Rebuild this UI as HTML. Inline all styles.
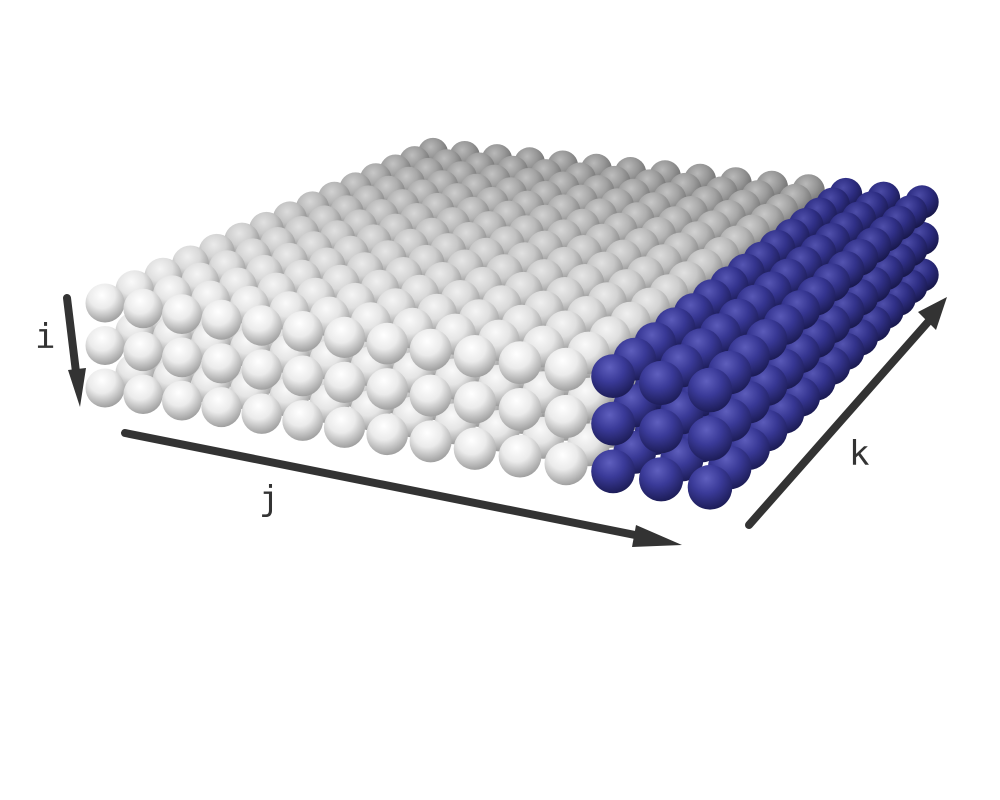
<!DOCTYPE html>
<html><head><meta charset="utf-8"><style>
html,body{margin:0;padding:0;background:#fff;}
svg{display:block;}
text{font-family:"DejaVu Sans Mono","Liberation Mono",monospace;fill:#333;}
</style></head>
<body>
<svg id="scene" width="1000" height="800" viewBox="0 0 1000 800" xmlns="http://www.w3.org/2000/svg">
<defs id="defs"></defs>
<g id="spheres"></g>
<g id="axes">
  <line x1="67" y1="298" x2="76" y2="372" stroke="#333" stroke-width="8" stroke-linecap="round"/>
  <polygon points="68,370 86,368 80,407" fill="#333"/>
  <line x1="125" y1="433" x2="640" y2="536" stroke="#333" stroke-width="8" stroke-linecap="round"/>
  <polygon points="636,525 682,545 632,547" fill="#333"/>
  <line x1="749" y1="525" x2="928" y2="322" stroke="#333" stroke-width="8" stroke-linecap="round"/>
  <polygon points="918,312 947,297 936,330" fill="#333"/>
  <text x="35" y="348" font-size="34">i</text>
  <text x="259" y="510" font-size="34">j</text>
  <text x="849" y="465" font-size="34">k</text>
</g>
</svg>
<script>
const nJ = 15;
const nK = 15;
const nLayers = 3;
const blueColumns = [12, 13, 14];

const NS = "http://www.w3.org/2000/svg";
const X = [105, 710, 922, 433], Y = [303, 390, 202, 153];
const dx1 = X[1]-X[2], dx2 = X[3]-X[2], dx3 = X[0]-X[1]+X[2]-X[3];
const dy1 = Y[1]-Y[2], dy2 = Y[3]-Y[2], dy3 = Y[0]-Y[1]+Y[2]-Y[3];
const den = dx1*dy2 - dx2*dy1;
const g = (dx3*dy2 - dx2*dy3)/den, h = (dx1*dy3 - dx3*dy1)/den;
const a = X[1]-X[0]+g*X[1], b = X[3]-X[0]+h*X[3], c = X[0];
const d = Y[1]-Y[0]+g*Y[1], e = Y[3]-Y[0]+h*Y[3], f = Y[0];
function proj(j, k){
  const u = j/(nJ-1), v = k/(nK-1);
  const w = g*u + h*v + 1;
  return {x:(a*u+b*v+c)/w, y:(d*u+e*v+f)/w, s:1/w};
}
const defs = document.getElementById('defs');
const group = document.getElementById('spheres');
function mix(c1, c2, t){ return 'rgb(' + c1.map((v,i)=>Math.round(v+(c2[i]-v)*t)).join(',') + ')'; }
function makeGrad(id, stops){
  const rg = document.createElementNS(NS, 'radialGradient');
  rg.setAttribute('id', id);
  rg.setAttribute('cx', '0.42'); rg.setAttribute('cy', '0.3'); rg.setAttribute('r', '0.75');
  stops.forEach(([o, col]) => {
    const st = document.createElementNS(NS, 'stop');
    st.setAttribute('offset', o); st.setAttribute('stop-color', col);
    rg.appendChild(st);
  });
  defs.appendChild(rg);
}
for (let k = 0; k < nK; k++){
  const t = k/(nK-1);
  makeGrad('w'+k, [[0, mix([255,255,255],[185,185,185],t)], [0.45, mix([235,235,235],[150,150,150],t)], [1, mix([150,150,150],[95,95,95],t)]]);
  makeGrad('b'+k, [[0, mix([95,95,190],[75,75,165],t)], [0.45, mix([58,58,152],[45,45,130],t)], [1, mix([25,25,80],[20,20,65],t)]]);
}
const items = [];
for (let k = 0; k < nK; k++) for (let j = 0; j < nJ; j++) for (let i = 0; i < nLayers; i++){
  const p = proj(j, k);
  const r = 19.5*p.s;
  items.push({i, j, k, x:p.x, y:p.y + i*2.18*r, r, s:p.s});
}
items.sort((A, B) => (A.s - B.s) || (B.i - A.i));
items.forEach(it => {
  const circ = document.createElementNS(NS, 'circle');
  
  
  circ.setAttribute('cx', it.x.toFixed(1));
  circ.setAttribute('cy', it.y.toFixed(1));
  circ.setAttribute('r', it.r.toFixed(1));
  const blue = blueColumns.includes(it.j);
  circ.setAttribute('fill', 'url(#' + (blue ? 'b' : 'w') + it.k + ')');
  group.appendChild(circ);
});
</script>
</body></html>
